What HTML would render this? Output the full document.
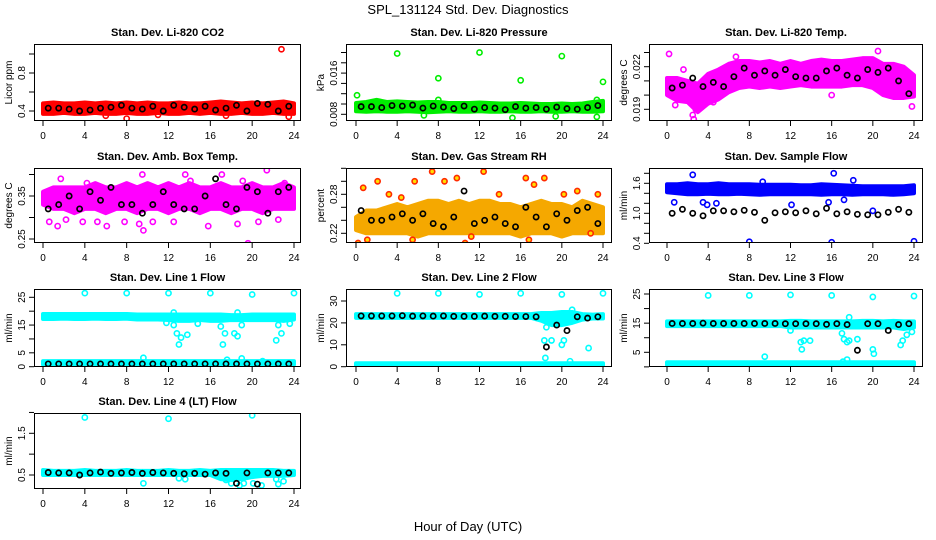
<!DOCTYPE html>
<html><head><meta charset="utf-8"><style>
html,body{margin:0;padding:0;background:#fff;}
svg{display:block;font-family:"Liberation Sans",Arial,sans-serif;}
</style></head><body>
<svg id="chart" width="936" height="540" viewBox="0 0 936 540">
<text x="468" y="14" font-size="13" text-anchor="middle">SPL_131124  Std. Dev. Diagnostics</text>
<text x="468" y="531" font-size="13" text-anchor="middle">Hour of Day (UTC)</text>
</svg>
<script>
const bandHours=[0,1,2,3,4,5,6,7,8,9,10,11,12,13,14,15,16,17,18,19,20,21,22,23,24];
const blackHours=[0.5,1.5,2.5,3.5,4.5,5.5,6.5,7.5,8.5,9.5,10.5,11.5,12.5,13.5,14.5,15.5,16.5,17.5,18.5,19.5,20.5,21.5,22.5,23.5];
const xTicks=[0,4,8,12,16,20,24];

const co2Lo=[0.37,0.37,0.38,0.37,0.37,0.38,0.37,0.37,0.38,0.37,0.37,0.38,0.37,0.37,0.38,0.37,0.38,0.37,0.37,0.38,0.37,0.37,0.38,0.37,0.37];
const co2Hi=[0.48,0.49,0.48,0.48,0.49,0.48,0.49,0.48,0.49,0.48,0.49,0.48,0.48,0.49,0.48,0.48,0.49,0.50,0.49,0.48,0.49,0.48,0.49,0.50,0.48];
const co2Black=[0.43,0.43,0.42,0.40,0.41,0.43,0.44,0.46,0.43,0.42,0.45,0.40,0.46,0.44,0.42,0.45,0.41,0.43,0.46,0.40,0.48,0.47,0.40,0.45];
const co2Out=[[22.8,1.05],[8,0.32],[23.5,0.34],[17.5,0.35],[6,0.35],[11,0.36]];

const presLo=[0.0086,0.0085,0.0086,0.0085,0.0085,0.0086,0.0085,0.0084,0.0085,0.0086,0.0085,0.0085,0.0086,0.0085,0.0085,0.0086,0.0085,0.0085,0.0086,0.0085,0.0085,0.0086,0.0085,0.0085,0.0086];
const presHi=[0.0102,0.0104,0.0108,0.0104,0.0105,0.0104,0.0103,0.0104,0.0104,0.0102,0.0102,0.0102,0.0103,0.0102,0.0101,0.0101,0.0102,0.0101,0.0100,0.0100,0.0101,0.0100,0.0101,0.0104,0.0106];
const presBlack=[0.0095,0.0095,0.0093,0.0097,0.0096,0.0098,0.0092,0.0096,0.0094,0.0091,0.0096,0.0090,0.0093,0.0092,0.0089,0.0095,0.0092,0.0093,0.0090,0.0094,0.0091,0.0090,0.0093,0.0097];
const presOut=[[4,0.0198],[12,0.0200],[8,0.0150],[16,0.0146],[20,0.0193],[24,0.0143],[0.1,0.0117],[15.2,0.0073],[23.4,0.0075],[6.6,0.0078],[19.4,0.0076],[8,0.0108],[23.4,0.0108]];

const tempLo=[0.0200,0.0196,0.0195,0.0188,0.0194,0.0197,0.0202,0.0205,0.0206,0.0205,0.0206,0.0205,0.0206,0.0207,0.0206,0.0206,0.0206,0.0206,0.0207,0.0207,0.0205,0.0200,0.0198,0.0198,0.0199];
const tempHi=[0.0212,0.0212,0.0210,0.0208,0.0215,0.0218,0.0222,0.0224,0.0224,0.0223,0.0224,0.0222,0.0224,0.0222,0.0224,0.0225,0.0224,0.0224,0.0225,0.0226,0.0226,0.0222,0.0222,0.0220,0.0214];
const tempBlack=[0.0205,0.0207,0.0212,0.0206,0.0209,0.0206,0.0213,0.0219,0.0214,0.0217,0.0214,0.0218,0.0213,0.0212,0.0212,0.0217,0.0219,0.0214,0.0212,0.0218,0.0216,0.0219,0.0210,0.0201];
const tempOut=[[0.2,0.0229],[2.6,0.0183],[2.5,0.0186],[1.6,0.0218],[6.7,0.0227],[20.5,0.0231],[23.8,0.0192],[16,0.0200],[2.8,0.0190],[0.8,0.0193],[4.5,0.0195]];

const ambLo=[0.33,0.32,0.32,0.31,0.32,0.32,0.31,0.32,0.32,0.31,0.32,0.32,0.31,0.32,0.32,0.31,0.32,0.32,0.31,0.32,0.32,0.31,0.32,0.32,0.32];
const ambHi=[0.36,0.37,0.37,0.37,0.37,0.38,0.37,0.37,0.38,0.37,0.38,0.37,0.38,0.37,0.38,0.37,0.37,0.38,0.37,0.37,0.38,0.37,0.37,0.38,0.37];
const ambBlack=[0.32,0.33,0.35,0.32,0.36,0.34,0.37,0.33,0.33,0.31,0.33,0.36,0.33,0.32,0.32,0.35,0.39,0.33,0.32,0.37,0.36,0.31,0.36,0.37];
const ambOut=[[0.6,0.29],[1.4,0.28],[2.2,0.295],[3.8,0.29],[5.2,0.29],[6.1,0.28],[7.8,0.29],[9.2,0.285],[9.6,0.27],[10.5,0.29],[12.5,0.29],[13.6,0.40],[15.8,0.28],[17.1,0.40],[18.6,0.285],[19.6,0.24],[20.6,0.29],[21.4,0.41],[22.5,0.295],[1.7,0.39],[4.2,0.38],[9.5,0.40],[14.1,0.385],[19.1,0.385],[23.1,0.38]];

const rhLo=[0.225,0.22,0.22,0.22,0.22,0.22,0.215,0.22,0.22,0.22,0.22,0.22,0.22,0.22,0.22,0.22,0.215,0.22,0.22,0.22,0.215,0.22,0.22,0.22,0.22];
const rhHi=[0.245,0.255,0.255,0.26,0.265,0.26,0.265,0.27,0.27,0.265,0.27,0.265,0.27,0.27,0.265,0.265,0.26,0.265,0.27,0.265,0.265,0.26,0.27,0.265,0.26];
const rhBlack=[0.255,0.24,0.24,0.245,0.25,0.24,0.25,0.235,0.23,0.245,0.285,0.235,0.24,0.245,0.235,0.23,0.26,0.245,0.23,0.25,0.24,0.255,0.26,0.235];
const rhOut=[[0.2,0.205],[0.7,0.29],[2.1,0.30],[4.4,0.275],[5.7,0.30],[7.4,0.315],[8.6,0.30],[9.8,0.305],[10.6,0.205],[12.4,0.315],[13.9,0.28],[16.5,0.305],[17.3,0.295],[18.3,0.305],[20.2,0.28],[21.5,0.285],[23.5,0.28],[5.5,0.21],[11.2,0.215],[16.8,0.21],[1.1,0.21],[22.8,0.22],[3.2,0.28]];

const sampLo=[1.42,1.40,1.38,1.38,1.39,1.38,1.38,1.39,1.38,1.37,1.38,1.38,1.38,1.38,1.38,1.37,1.38,1.38,1.37,1.38,1.38,1.38,1.37,1.38,1.40];
const sampHi=[1.58,1.58,1.60,1.58,1.58,1.60,1.58,1.58,1.58,1.57,1.57,1.57,1.57,1.56,1.56,1.58,1.57,1.56,1.55,1.54,1.54,1.54,1.54,1.54,1.56];
const sampBlack=[1.00,1.08,1.00,0.95,1.05,1.05,1.03,1.06,1.02,0.86,1.01,1.03,1.01,1.05,0.99,1.10,0.99,1.03,0.98,0.97,0.97,1.02,1.08,1.02];
const sampOut=[[2.5,1.77],[16.2,1.80],[8,0.43],[16,0.42],[24,0.44],[0.7,1.22],[3.5,1.22],[12.1,1.17],[9.3,1.63],[18.1,1.66],[3.9,1.17],[15.7,1.22],[17.2,1.27],[4.8,1.2],[20,1.05]];

const l1Lo=[17.2,17.2,17.3,17.2,17.2,17.3,17.2,17.2,17.3,17.0,17.0,17.0,16.8,16.5,16.5,16.8,16.5,16.5,16.8,16.8,16.8,16.8,16.8,16.5,17.0];
const l1Hi=[19.0,19.0,19.0,19.0,19.0,19.0,19.0,19.0,19.0,18.8,18.8,18.8,18.8,18.8,18.8,18.8,18.8,18.8,18.6,18.6,18.8,18.8,18.8,18.8,18.8];
const l1Lo2=[0.8,0.8,0.8,0.8,0.8,0.8,0.8,0.8,0.8,0.8,0.8,0.8,0.8,0.8,0.8,0.8,0.8,0.8,0.8,0.8,0.8,0.8,0.8,0.8,0.8];
const l1Hi2=[2.0,2.0,2.0,2.0,2.0,2.0,2.0,2.0,2.0,2.0,2.0,2.0,2.0,2.0,2.0,2.0,2.0,2.0,2.0,2.0,2.0,2.0,2.0,2.0,2.0];
const l1Black=[1.0,1.0,1.0,1.0,1.0,1.0,1.0,1.0,1.0,1.0,1.0,1.0,1.0,1.0,1.0,1.0,1.0,1.0,1.0,1.0,1.0,1.0,1.0,1.0];
const l1Out=[[4,26.5],[8,26.5],[12,26.5],[16,26.5],[20,26],[24,26.5],[12.5,19.5],[12.5,15],[12.8,12],[13,8],[13.2,10.5],[13.8,11.5],[17.2,8],[17.4,12],[18.3,12],[18.6,19.5],[18.6,11],[19,15],[22.3,9.5],[22.8,12],[9.6,3.2],[17.6,2.5],[19,3],[21,2],[11.8,15.8],[14.8,15.5],[22.5,15],[23.6,15.5],[17,14.5]];

const l2Lo=[22.3,22.3,22.3,22.3,22.3,22.3,22.3,22.3,22.3,22.3,22.3,22.3,22.3,22.3,22.3,22.3,22.3,22.3,21.0,19.0,19.0,20.0,21.5,22.0,22.0];
const l2Hi=[24.0,24.0,24.0,24.0,24.0,24.0,24.0,24.0,24.0,24.0,24.0,24.0,24.0,24.0,24.0,24.0,24.0,24.0,24.5,24.5,25.0,25.0,24.0,23.8,24.0];
const l2Lo2=[0.5,0.5,0.5,0.5,0.5,0.5,0.5,0.5,0.5,0.5,0.5,0.5,0.5,0.5,0.5,0.5,0.5,0.5,0.5,0.5,0.5,0.5,0.5,0.5,0.5];
const l2Hi2=[1.6,1.6,1.6,1.6,1.6,1.6,1.6,1.6,1.6,1.6,1.6,1.6,1.6,1.6,1.6,1.6,1.6,1.6,1.6,1.6,1.6,1.6,1.6,1.6,1.6];
const l2Black=[23.2,23.2,23.2,23.2,23.3,23.1,23.2,23.1,23.2,23.0,23.0,23.0,23.1,23.0,23.0,22.9,22.9,22.8,9.0,19.0,16.5,22.8,22.2,22.8];
const l2Out=[[4,33.5],[8,33.5],[12,33],[16,33.5],[20,33],[24,33.5],[18.3,12],[18.4,4],[18.5,18],[19,12],[20,10],[20.2,12],[21,26],[22.6,8.5],[20.8,2.5],[19.5,24]];

const l3Lo=[14.0,14.0,14.0,14.0,14.0,14.0,14.0,14.0,14.0,14.0,14.0,14.0,13.5,13.5,13.5,13.5,13.5,13.5,13.5,13.5,13.5,13.5,13.5,13.0,13.5];
const l3Hi=[15.6,15.6,15.6,15.6,15.6,15.6,15.6,15.6,15.6,15.6,15.6,15.6,15.8,15.8,15.6,15.6,15.6,15.6,15.6,15.8,15.8,15.6,15.8,15.6,15.6];
const l3Lo2=[0.6,0.6,0.6,0.6,0.6,0.6,0.6,0.6,0.6,0.6,0.6,0.6,0.6,0.6,0.6,0.6,0.6,0.6,0.6,0.6,0.6,0.6,0.6,0.6,0.6];
const l3Hi2=[1.6,1.6,1.6,1.6,1.6,1.6,1.6,1.6,1.6,1.6,1.6,1.6,1.6,1.6,1.6,1.6,1.6,1.6,1.6,1.6,1.6,1.6,1.6,1.6,1.6];
const l3Black=[14.9,14.9,14.9,15.0,14.9,14.9,14.9,14.9,14.9,14.9,14.9,14.8,14.8,14.8,14.8,14.6,14.8,14.5,5.7,14.8,14.8,12.5,14.5,14.8];
const l3Out=[[4,24.5],[8,24.5],[12,24.7],[16,24.5],[20,24],[24,24.3],[9.5,3.5],[13,8.5],[13.3,9],[13.9,9],[13.1,6],[17,11.5],[17.2,9.5],[17.5,8.5],[17.7,9],[17.7,17],[18.5,9.5],[20,6],[20.1,4.5],[22.7,7.5],[22.9,9],[23.3,11],[23.8,12],[12,12.5],[17.5,2.5],[17.1,1.8]];

const l4Lo=[0.50,0.50,0.50,0.50,0.50,0.50,0.50,0.50,0.50,0.50,0.50,0.50,0.50,0.50,0.50,0.50,0.50,0.40,0.38,0.40,0.45,0.48,0.48,0.48,0.50];
const l4Hi=[0.62,0.60,0.60,0.60,0.62,0.60,0.60,0.60,0.62,0.60,0.60,0.60,0.62,0.60,0.60,0.62,0.60,0.62,0.62,0.62,0.62,0.62,0.62,0.60,0.60];
const l4Black=[0.56,0.55,0.55,0.50,0.55,0.57,0.54,0.55,0.56,0.54,0.56,0.55,0.54,0.53,0.54,0.52,0.55,0.54,0.30,0.55,0.28,0.55,0.55,0.55];
const l4Out=[[4,1.88],[12,1.85],[20,1.93],[9.6,0.3],[13,0.42],[13.6,0.4],[17.5,0.38],[18,0.3],[18.8,0.25],[19.2,0.3],[20.1,0.3],[20.9,0.25],[22.3,0.4],[22.5,0.28],[23,0.35]];

const co2Ticks=[0.4,0.6,0.8,1.0], co2Labels=["0.4","","0.8",""];
const presTicks=[0.008,0.010,0.012,0.014,0.016,0.018,0.020], presLabels=["0.008","","","","0.016","",""];
const tempTicks=[0.019,0.020,0.021,0.022,0.023], tempLabels=["0.019","","","0.022",""];
const ambTicks=[0.25,0.30,0.35,0.40], ambLabels=["0.25","","0.35",""];
const rhTicks=[0.22,0.24,0.26,0.28,0.30,0.32], rhLabels=["0.22","","","0.28","",""];
const sampTicks=[0.4,0.6,0.8,1.0,1.2,1.4,1.6,1.8], sampLabels=["0.4","","","1.0","","","1.6",""];
const l1Ticks=[0,5,10,15,20,25], l1Labels=["0","5","","15","","25"];
const l2Ticks=[0,10,20,30], l2Labels=["0","10","20","30"];
const l3Ticks=[0,5,10,15,20,25], l3Labels=["","5","","15","","25"];
const l4Ticks=[0.5,1.0,1.5,2.0], l4Labels=["0.5","","1.5",""];

const svg=document.getElementById('chart');
const NS='http://www.w3.org/2000/svg';
function mk(tag,attrs,parent){const e=document.createElementNS(NS,tag);for(const k in attrs)e.setAttribute(k,attrs[k]);(parent||svg).appendChild(e);return e;}

const cols=[{l:34,r:301,x0:43,x24:294},{l:346,r:612,x0:356,x24:603},{l:649,r:923,x0:667,x24:914}];
const rows=[{t:44,b:121},{t:168,b:243},{t:289,b:367},{t:413,b:489}];

const panels=[
 {name:'co2',title:'Stan. Dev. Li-820 CO2',ylab:'Licor ppm',c:0,r:0,v1:0.4,p1:111,v2:0.8,p2:73,col:'#ff0000',lo:co2Lo,hi:co2Hi,black:co2Black,out:co2Out,ticks:co2Ticks,labels:co2Labels},
 {name:'pressure',title:'Stan. Dev. Li-820 Pressure',ylab:'kPa',c:1,r:0,v1:0.008,p1:114.3,v2:0.016,p2:73.1,col:'#00ee00',lo:presLo,hi:presHi,black:presBlack,out:presOut,ticks:presTicks,labels:presLabels},
 {name:'temp',title:'Stan. Dev. Li-820 Temp.',ylab:'degrees C',c:2,r:0,v1:0.019,p1:109.3,v2:0.022,p2:66.7,col:'#ff00ff',lo:tempLo,hi:tempHi,black:tempBlack,out:tempOut,ticks:tempTicks,labels:tempLabels},
 {name:'amb-box-temp',title:'Stan. Dev. Amb. Box Temp.',ylab:'degrees C',c:0,r:1,v1:0.25,p1:239,v2:0.35,p2:196,col:'#ff00ff',lo:ambLo,hi:ambHi,black:ambBlack,out:ambOut,ticks:ambTicks,labels:ambLabels},
 {name:'gas-rh',title:'Stan. Dev. Gas Stream RH',ylab:'percent',c:1,r:1,v1:0.22,p1:233.3,v2:0.28,p2:194.3,col:'#f5a800',pt:'#ffe000',ps:'#ff2a00',lo:rhLo,hi:rhHi,black:rhBlack,out:rhOut,ticks:rhTicks,labels:rhLabels},
 {name:'sample-flow',title:'Stan. Dev. Sample Flow',ylab:'ml/min',c:2,r:1,v1:1.0,p1:213.3,v2:1.6,p2:183.3,col:'#0000ff',lo:sampLo,hi:sampHi,black:sampBlack,out:sampOut,ticks:sampTicks,labels:sampLabels},
 {name:'line1-flow',title:'Stan. Dev. Line 1 Flow',ylab:'ml/min',c:0,r:2,v1:0,p1:366.7,v2:25,p2:297.3,col:'#00ffff',lo:l1Lo,hi:l1Hi,lo2:l1Lo2,hi2:l1Hi2,black:l1Black,out:l1Out,ticks:l1Ticks,labels:l1Labels},
 {name:'line2-flow',title:'Stan. Dev. Line 2 Flow',ylab:'ml/min',c:1,r:2,v1:0,p1:366.7,v2:30,p2:301,col:'#00ffff',lo:l2Lo,hi:l2Hi,lo2:l2Lo2,hi2:l2Hi2,black:l2Black,out:l2Out,ticks:l2Ticks,labels:l2Labels},
 {name:'line3-flow',title:'Stan. Dev. Line 3 Flow',ylab:'ml/min',c:2,r:2,v1:5,p1:352.3,v2:25,p2:294,col:'#00ffff',lo:l3Lo,hi:l3Hi,lo2:l3Lo2,hi2:l3Hi2,black:l3Black,out:l3Out,ticks:l3Ticks,labels:l3Labels},
 {name:'line4-flow',title:'Stan. Dev. Line 4 (LT) Flow',ylab:'ml/min',c:0,r:3,v1:0.5,p1:475,v2:1.5,p2:433.3,col:'#00ffff',lo:l4Lo,hi:l4Hi,black:l4Black,out:l4Out,ticks:l4Ticks,labels:l4Labels}
];

panels.forEach(P=>{
 const C=cols[P.c],R=rows[P.r];
 const xs=h=>C.x0+(C.x24-C.x0)*h/24;
 const ys=v=>P.p1+(P.p2-P.p1)*(v-P.v1)/(P.v2-P.v1);
 const g=mk('g',{});
 
 
 const clipId='clip-'+P.name;
 const cp=mk('clipPath',{id:clipId},g);
 mk('rect',{x:C.l,y:R.t,width:C.r-C.l,height:R.b-R.t},cp);
 const t=mk('text',{x:(C.l+C.r)/2,y:R.t-8,'font-size':11,'font-weight':'bold','text-anchor':'middle'},g);
 t.textContent=P.title;
 
 
 const data=mk('g',{'clip-path':'url(#'+clipId+')'},g);
 
 
 const drawBand=(lo,hi,nm)=>{
  let pts=bandHours.map((h,i)=>xs(h)+','+ys(hi[i]));
  pts=pts.concat(bandHours.map((h,i)=>xs(h)+','+ys(lo[i])).reverse());
  const poly=mk('polygon',{points:pts.join(' '),fill:P.col,stroke:P.col,'stroke-width':4,'stroke-linejoin':'round'},data);
  
  
 };
 drawBand(P.lo,P.hi,P.name+'-band');
 if(P.lo2) drawBand(P.lo2,P.hi2,P.name+'-low-band');
 P.out.forEach(o=>{
  const c=mk('circle',{cx:xs(o[0]),cy:ys(o[1]),r:2.6,fill:P.pt||'none',stroke:P.ps||P.col,'stroke-width':1.6},data);
  
  
 });
 P.black.forEach((v,i)=>{
  const c=mk('circle',{cx:xs(blackHours[i]),cy:ys(v),r:2.6,fill:'none',stroke:'#000','stroke-width':1.7},data);
  
  
 });
 const box=mk('rect',{x:C.l+0.5,y:R.t+0.5,width:C.r-C.l-1,height:R.b-R.t-1,fill:'none',stroke:'#000','stroke-width':1},g);
 
 
 xTicks.forEach(h=>{
  mk('line',{x1:xs(h),x2:xs(h),y1:R.b,y2:R.b+5,stroke:'#000'},g);
  const tl=mk('text',{x:xs(h),y:R.b+18,'font-size':10,'text-anchor':'middle'},g);
  tl.textContent=h;
  
  
 });
 P.ticks.forEach((v,i)=>{
  const y=ys(v);
  mk('line',{x1:C.l-5,x2:C.l,y1:y,y2:y,stroke:'#000'},g);
  if(P.labels[i]){
   const tl=mk('text',{x:C.l-9,y:y,'font-size':10,'text-anchor':'middle',transform:'rotate(-90 '+(C.l-9)+' '+y+')'},g);
   tl.textContent=P.labels[i];
   
   
  }
 });
 const yc=(R.t+R.b)/2;
 const yl=mk('text',{x:C.l-22,y:yc,'font-size':10,'text-anchor':'middle',transform:'rotate(-90 '+(C.l-22)+' '+yc+')'},g);
 yl.textContent=P.ylab;
 
 
});
</script>
</body></html>
